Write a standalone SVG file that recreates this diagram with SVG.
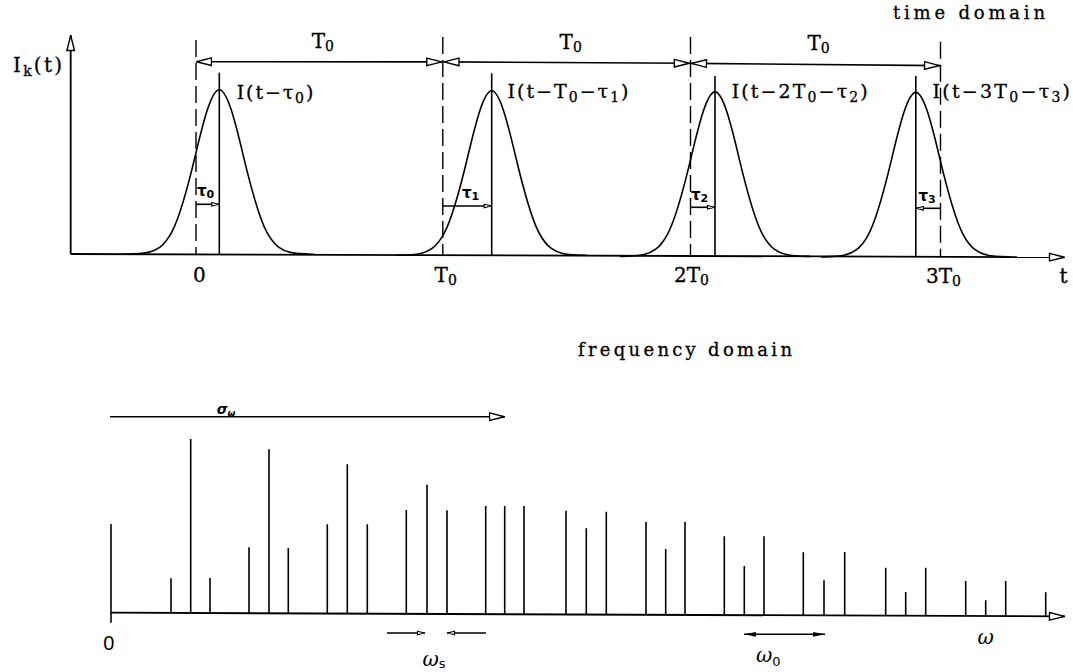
<svg xmlns="http://www.w3.org/2000/svg" xmlns:xlink="http://www.w3.org/1999/xlink" width="1073" height="672" viewBox="0 0 1073 672">
<style>
.ln{stroke:#000;stroke-width:1.6;fill:none}
.ax{stroke:#000;stroke-width:1.8;fill:none}
.dash{stroke:#000;stroke-width:1.4;stroke-dasharray:17 6;fill:none}
.lab{font-family:"DejaVu Serif","Liberation Serif",serif;font-size:20px;fill:#000;stroke:#000;stroke-width:0.3}
.il{font-family:"DejaVu Serif","Liberation Serif",serif;font-size:19px;fill:#000;stroke:#000;stroke-width:0.3}
.sub{font-size:14px}
.dom{font-family:"DejaVu Serif","Liberation Serif",serif;font-size:18px;fill:#000;stroke:#000;stroke-width:0.3}
.tau{font-family:"DejaVu Sans","Liberation Sans",sans-serif;font-weight:bold;font-size:15px;fill:#000}
.tsub{font-size:11px}
.om{font-family:"DejaVu Serif","Liberation Serif",serif;font-style:italic;font-size:20px;fill:#000}
.osub{font-family:"DejaVu Sans","Liberation Sans",sans-serif;font-style:normal;font-size:13px}
</style>
<defs>
<marker id="oa" viewBox="0 0 17 10" refX="16.5" refY="5" markerWidth="17" markerHeight="10" markerUnits="userSpaceOnUse" orient="auto-start-reverse">
<path d="M1,1.2 L16,5 L1,8.8 Z" fill="#fff" stroke="#000" stroke-width="1.4"/>
</marker>
<marker id="sa" viewBox="0 0 9 6" refX="8.5" refY="3" markerWidth="9" markerHeight="6" markerUnits="userSpaceOnUse" orient="auto-start-reverse">
<path d="M1,1.2 L8,3 L1,4.8 Z" fill="#fff" stroke="#000" stroke-width="1.1"/>
</marker>
<marker id="fa" viewBox="0 0 12 6" refX="12" refY="3" markerWidth="12" markerHeight="6" markerUnits="userSpaceOnUse" orient="auto-start-reverse">
<path d="M0,0.6 L12,3 L0,5.4 Z" fill="#000"/>
</marker>
<path id="pulse" d="M-94.8,0 C-86.9,-0.1 -79,0 -71.1,-1.83 C-63.2,-3.65 -55.3,-7.4 -47.4,-22.3 C-39.5,-37.1 -31.6,-66.5 -23.7,-99.8 C-15.8,-133 -7.9,-164.5 0,-164.5 C7.9,-164.5 15.8,-133 23.7,-99.8 C31.6,-66.5 39.5,-37.1 47.4,-22.3 C55.3,-7.4 63.2,-3.65 71.1,-1.83 C79,0 86.9,-0.1 94.8,0" fill="none" stroke="#000" stroke-width="1.6"/>
</defs>
<rect width="1073" height="672" fill="#fff"/>

<!-- TIME DOMAIN -->
<g id="time-domain">
  <text class="dom" x="893" y="18.5" font-size="19" textLength="152" lengthAdjust="spacing">time domain</text>
  <g id="time-axes">
    <line class="ax" x1="70.7" y1="254" x2="70.7" y2="35" marker-end="url(#oa)"/>
    <line class="ax" x1="70.7" y1="254" x2="1065" y2="257.2" marker-end="url(#oa)"/>
    <text class="lab" x="13" y="71.7" textLength="49" lengthAdjust="spacing">I<tspan class="sub" dy="4">k</tspan><tspan dy="-4">(t)</tspan></text>
    <text class="lab" x="1059.5" y="283">t</text>
  </g>
  <g id="period-marks">
    <line class="dash" x1="196" y1="40" x2="196" y2="254"/>
    <line class="dash" x1="442.8" y1="37" x2="442.8" y2="255"/>
    <line class="dash" x1="690.5" y1="37" x2="690.5" y2="256"/>
    <line class="dash" x1="940.5" y1="41.7" x2="940.5" y2="257"/>
    <text class="lab" x="193" y="282">0</text>
    <text class="lab" x="434.6" y="282">T<tspan class="sub" dy="3">0</tspan></text>
    <text class="lab" x="674" y="282">2T<tspan class="sub" dy="3">0</tspan></text>
    <text class="lab" x="926" y="282.5">3T<tspan class="sub" dy="3">0</tspan></text>
  </g>
  <g id="pulse-0">
    <use xlink:href="#pulse" href="#pulse" transform="translate(219.3,254.2)"/>
    <line class="ln" x1="219.3" y1="72.7" x2="219.3" y2="254"/>
    <text class="il" x="236.7" y="99" textLength="76.6" lengthAdjust="spacing">I(t−τ<tspan class="sub" dy="4">0</tspan><tspan dy="-4">)</tspan></text>
    <text class="tau" x="197" y="196">τ<tspan class="tsub" dy="2">0</tspan></text>
  </g>
  <g id="pulse-1">
    <use xlink:href="#pulse" href="#pulse" transform="translate(491.7,255.3)"/>
    <line class="ln" x1="491.7" y1="73.3" x2="491.7" y2="255.3"/>
    <text class="il" x="507.5" y="97.5" textLength="121" lengthAdjust="spacing">I(t−T<tspan class="sub" dy="4">0</tspan><tspan dy="-4">−τ</tspan><tspan class="sub" dy="4">1</tspan><tspan dy="-4">)</tspan></text>
    <text class="tau" x="462" y="198">τ<tspan class="tsub" dy="2">1</tspan></text>
  </g>
  <g id="pulse-2">
    <use xlink:href="#pulse" href="#pulse" transform="translate(715,256.4)"/>
    <line class="ln" x1="715" y1="76" x2="715" y2="256.2"/>
    <text class="il" x="731.7" y="98" textLength="136" lengthAdjust="spacing">I(t−2T<tspan class="sub" dy="4">0</tspan><tspan dy="-4">−τ</tspan><tspan class="sub" dy="4">2</tspan><tspan dy="-4">)</tspan></text>
    <text class="tau" x="691" y="200">τ<tspan class="tsub" dy="2">2</tspan></text>
  </g>
  <g id="pulse-3">
    <use xlink:href="#pulse" href="#pulse" transform="translate(915.8,256.9)"/>
    <line class="ln" x1="915.8" y1="76" x2="915.8" y2="256.8"/>
    <text class="il" x="932.5" y="98" textLength="137.5" lengthAdjust="spacing">I(t−3T<tspan class="sub" dy="4">0</tspan><tspan dy="-4">−τ</tspan><tspan class="sub" dy="4">3</tspan><tspan dy="-4">)</tspan></text>
    <text class="tau" x="918.5" y="200.5">τ<tspan class="tsub" dy="2">3</tspan></text>
  </g>
  <g id="period-labels">
    <text class="lab" x="311.7" y="48">T<tspan class="sub" dy="3">0</tspan></text>
    <text class="lab" x="559.6" y="49">T<tspan class="sub" dy="3">0</tspan></text>
    <text class="lab" x="807.5" y="50">T<tspan class="sub" dy="3">0</tspan></text>
  </g>
</g>

<!-- FREQUENCY DOMAIN -->
<g id="frequency-domain">
  <text class="dom" x="578" y="355.5" textLength="214" lengthAdjust="spacing">frequency domain</text>
  <g id="freq-axis">
    <line class="ax" x1="111" y1="612.7" x2="1065" y2="616.4" marker-end="url(#oa)"/>
    <line class="ln" x1="111" y1="524" x2="111" y2="622.7"/>
    <text x="103.3" y="650" font-family="Liberation Sans, Arial, sans-serif" font-size="20">0</text>
    <text class="om" x="977.5" y="644" font-size="19">ω</text>
  </g>
  <g id="spectrum">
    <path class="ln" d="M171,578.3V612.9 M190.7,439V613 M210,578V613 M249,547.3V613.1 M269,449.3V613.2 M288.3,548V613.3 M327.3,524.3V613.4 M347.3,464.3V613.5 M367.3,524.3V613.5 M406.3,510V613.6 M427,484.7V613.7 M447,510.3V613.8 M485.7,506V613.9 M504.7,506V614 M524,506V614 M566,510.7V614.2 M586.3,528.3V614.2 M606.3,511.7V614.3 M646,522V614.4 M665.7,549V614.5 M685,522V614.5 M724.3,536.3V614.7 M744.3,566V614.7 M764,536.3V614.8 M803.3,552.3V614.9 M824,580.3V615 M844.7,552V615.1 M885.7,567.7V615.2 M905.7,592V615.3 M925.7,567.7V615.3 M965.7,581V615.4 M985.7,600.3V615.5 M1005.7,581V615.6 M1045.7,592.3V615.7"/>
  </g>
  <g id="sigma-label">
    <text x="216.7" y="414" font-family="DejaVu Sans, Liberation Sans, sans-serif" font-style="italic" font-weight="bold" font-size="14">σ<tspan font-size="9" dy="2">ω</tspan></text>
  </g>
  <g id="omega-s-label">
    <text class="om" x="422.5" y="666">ω<tspan class="osub" dy="2">s</tspan></text>
  </g>
  <g id="omega-0-label">
    <text class="om" x="756" y="661.7">ω<tspan class="osub" font-size="14" dy="4">0</tspan></text>
  </g>
</g>

<!-- CONNECTORS -->
<g id="connectors">
  <line class="ln" x1="196" y1="61.7" x2="442.3" y2="61.9" marker-start="url(#oa)" marker-end="url(#oa)"/>
  <line class="ln" x1="443.5" y1="61.9" x2="689.8" y2="63.3" marker-start="url(#oa)" marker-end="url(#oa)"/>
  <line class="ln" x1="691" y1="63.4" x2="940" y2="65.6" marker-start="url(#oa)" marker-end="url(#oa)"/>
  <line class="ln" x1="196" y1="204.3" x2="219.3" y2="204.3" marker-end="url(#sa)"/>
  <line class="ln" x1="443" y1="206" x2="491.7" y2="206" marker-end="url(#sa)"/>
  <line class="ln" x1="690.5" y1="207.3" x2="715" y2="207.3" marker-end="url(#sa)"/>
  <line class="ln" x1="940.5" y1="208.3" x2="915.8" y2="208.3" marker-end="url(#sa)"/>
  <line class="ln" x1="110" y1="416.7" x2="505" y2="416.7" marker-end="url(#oa)"/>
  <line class="ln" x1="387" y1="633" x2="425" y2="633" marker-end="url(#sa)"/>
  <line class="ln" x1="486" y1="633" x2="447" y2="633" marker-end="url(#sa)"/>
  <line class="ln" x1="744" y1="634.3" x2="825" y2="634.3" marker-start="url(#fa)" marker-end="url(#fa)"/>
</g>
</svg>
